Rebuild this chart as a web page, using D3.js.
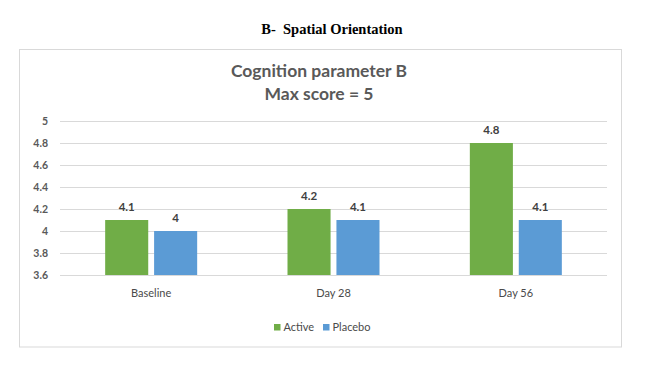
<!DOCTYPE html>
<html><head><meta charset="utf-8">
<script src="https://cdn.jsdelivr.net/npm/d3@7"></script>
<style>body{margin:0;background:#fff}svg{display:block}</style>
</head><body>
<script>
const categories = ["Baseline", "Day 28", "Day 56"];
const seriesNames = ["Active", "Placebo"];
const active = [4.1, 4.2, 4.8];
const placebo = [4.0, 4.1, 4.1];
const yTicks = [3.6, 3.8, 4, 4.2, 4.4, 4.6, 4.8, 5];
const colors = ["#70ad47", "#5b9bd5"];
const seriesValues = [active, placebo];

const W = 661, H = 381;
const svg = d3.select("body").append("svg").attr("width", W).attr("height", H);
const font = "Lato, 'Open Sans', sans-serif";
const gray = "#595959";

svg.append("text").attr("x", 332).attr("y", 34).attr("text-anchor", "middle")
  .attr("font-family", "'Liberation Serif', 'Times New Roman', serif").attr("font-weight", "bold")
  .attr("font-size", 14.5).attr("fill", "#000").attr("xml:space", "preserve").text("B-  Spatial Orientation");

svg.append("rect").attr("x", 19.5).attr("y", 49.5).attr("width", 602).attr("height", 297.5)
  .attr("fill", "#fff").attr("stroke", "#d9d9d9").attr("stroke-width", 1);

svg.append("text").attr("x", 319).attr("y", 77).attr("text-anchor", "middle")
  .attr("font-family", font).attr("font-weight", "bold").attr("font-size", 17.5).attr("fill", gray).text("Cognition parameter B");
svg.append("text").attr("x", 319).attr("y", 100).attr("text-anchor", "middle")
  .attr("font-family", font).attr("font-weight", "bold").attr("font-size", 17.5).attr("fill", gray).text("Max score = 5");

const x0 = d3.scaleBand().domain(categories).range([60, 607]).paddingInner(0).paddingOuter(0);
const y = d3.scaleLinear().domain([3.6, 5]).range([275, 121]);
const x1 = d3.scaleBand().domain(seriesNames).range([0, 92]).paddingInner(0.12);

const gGrid = svg.append("g");
gGrid.selectAll("line").data(yTicks).join("line")
  .attr("x1", 60).attr("x2", 607)
  .attr("y1", d => Math.round(y(d)) + 0.5).attr("y2", d => Math.round(y(d)) + 0.5)
  .attr("stroke", "#d9d9d9").attr("stroke-width", 1);

const yAxis = svg.append("g").attr("transform", "translate(60,0)")
  .call(d3.axisLeft(y).tickValues(yTicks).tickSize(0).tickPadding(12).tickFormat(d => String(d)));
yAxis.select(".domain").remove();
yAxis.selectAll("text").attr("font-family", font).attr("font-weight", "bold").attr("font-size", 10.5).attr("fill", gray);

const xAxis = svg.append("g").attr("transform", "translate(0,275)")
  .call(d3.axisBottom(x0).tickSize(0).tickPadding(14));
xAxis.select(".domain").remove();
xAxis.selectAll("text").attr("font-family", font).attr("font-size", 11).attr("fill", "#4a4a4a");

const groups = svg.append("g").selectAll("g").data(categories).join("g")
  .attr("transform", c => `translate(${x0(c) + x0.bandwidth() / 2 - 46},0)`);
groups.each(function(c, i) {
  const g = d3.select(this);
  seriesNames.forEach((s, j) => {
    const v = seriesValues[j][i];
    g.append("rect").attr("x", x1(s)).attr("width", x1.bandwidth())
      .attr("y", y(v)).attr("height", y(3.6) - y(v)).attr("fill", colors[j]);
    g.append("text").attr("x", x1(s) + x1.bandwidth() / 2).attr("y", y(v) - 9)
      .attr("text-anchor", "middle").attr("font-family", font).attr("font-weight", "bold")
      .attr("font-size", 11.5).attr("fill", "#404040").text(String(v));
  });
});

const legend = svg.append("g");
const legX = [274, 323];
seriesNames.forEach((s, j) => {
  legend.append("rect").attr("x", legX[j]).attr("y", 324).attr("width", 6.5).attr("height", 6.5).attr("fill", colors[j]);
  legend.append("text").attr("x", legX[j] + 9.5).attr("y", 331).attr("font-family", font)
    .attr("font-size", 11).attr("fill", "#4a4a4a").text(s);
});
</script>
</body></html>
